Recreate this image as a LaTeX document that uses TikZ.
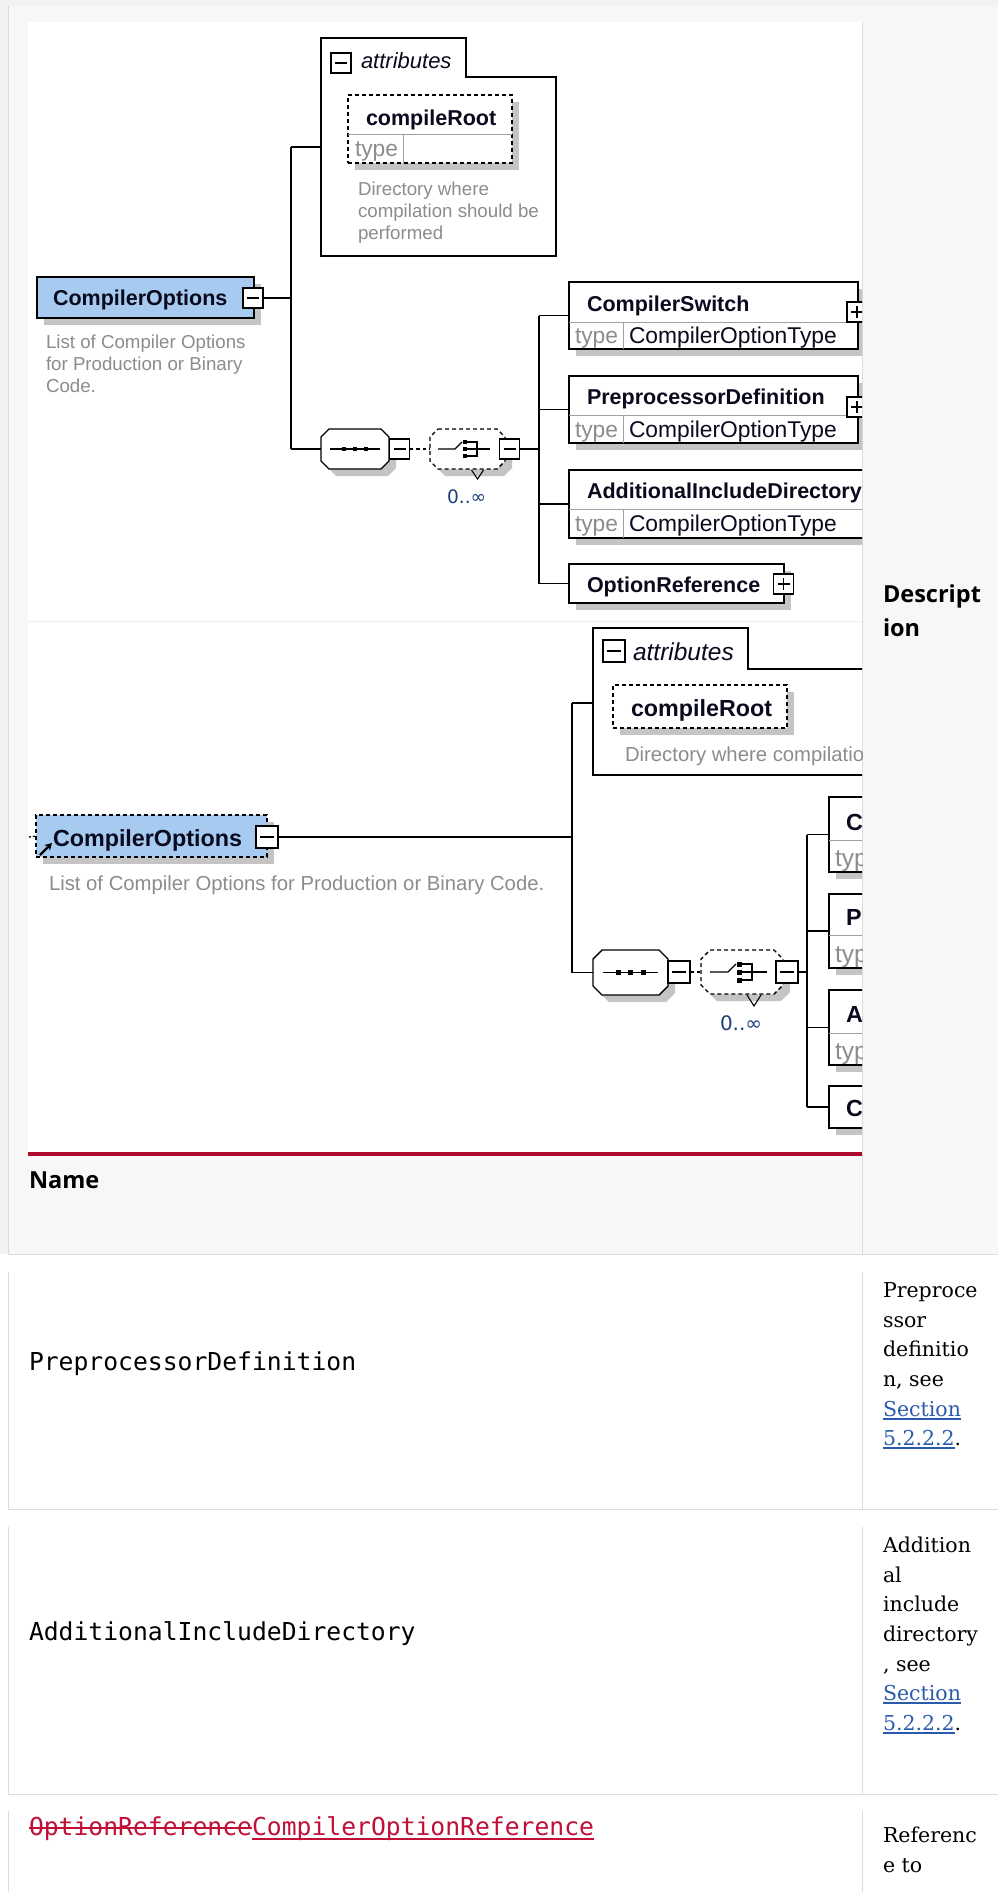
\documentclass[tikz,border=0pt]{standalone}
\usepackage{fontspec}
\setmainfont{Liberation Sans}
\newfontfamily\djsans{DejaVu Sans}
\newfontfamily\djserif{DejaVu Serif}
\newfontfamily\djmono{DejaVu Sans Mono}
\newfontfamily\opsans{Open Sans}
\usetikzlibrary{arrows.meta,calc,shadows}
\definecolor{pagebg}{HTML}{F7F7F7}
\definecolor{outerbg}{HTML}{F2F2F2}
\definecolor{rulec}{HTML}{DCDCDC}
\definecolor{sepc}{HTML}{EEEEEE}
\definecolor{shadowc}{HTML}{C4C4C4}
\definecolor{rootblue}{HTML}{A6CAF0}
\definecolor{descc}{HTML}{8C8C8C}
\definecolor{typec}{HTML}{8C8C8C}
\definecolor{divc}{HTML}{A0A0A0}
\definecolor{occc}{HTML}{1C3F78}
\definecolor{namec}{HTML}{0A0A1E}
\definecolor{crimson}{HTML}{AF0A2D}
\definecolor{linkc}{HTML}{2A5BAA}
\definecolor{chgred}{HTML}{C01038}
\newcommand{\fNmA}{\fontsize{21.5}{25}\selectfont\bfseries}
\newcommand{\fTyA}{\fontsize{22.8}{27}\selectfont}
\newcommand{\fDsA}{\fontsize{18.7}{22}\selectfont}
\newcommand{\fAtA}{\fontsize{22}{26}\selectfont\itshape}
\newcommand{\fNmB}{\fontsize{23.3}{27}\selectfont\bfseries}
\newcommand{\fTyB}{\fontsize{24.5}{29}\selectfont}
\newcommand{\fDsB}{\fontsize{20.3}{24}\selectfont}
\newcommand{\fAtB}{\fontsize{24.5}{29}\selectfont\itshape}
\newcommand{\fHd}{\opsans\bfseries\fontsize{23.5}{33}\selectfont}
\newcommand{\fMo}{\djmono\fontsize{24.7}{30}\selectfont}
\newcommand{\fSe}{\djserif\fontsize{20.5}{30}\selectfont}
\newcommand{\fOcA}{\djsans\fontsize{18.6}{22}\selectfont}
\newcommand{\fOcB}{\djsans\fontsize{20}{24}\selectfont}
\newcommand{\tglminus}[4]{%
  \node[tglbox,minimum size=#4pt] (#1) at (#2,#3) {};
  \draw[line width=1.2pt] ($(#1.west)+(4,0)$) -- ($(#1.east)+(-4,0)$);}
\newcommand{\tglplus}[4]{%
  \node[tglbox,minimum size=#4pt] (#1) at (#2,#3) {};
  \draw[line width=1.2pt] ($(#1.west)+(4,0)$) -- ($(#1.east)+(-4,0)$);
  \draw[line width=1.2pt] ($(#1.north)+(0,4)$) -- ($(#1.south)+(0,-4)$);}
\begin{document}
\begin{tikzpicture}[x=1pt,y=-1pt,
  every node/.style={inner sep=0pt,outer sep=0pt},
  tx/.style={anchor=base west,text=namec},
  conn/.style={draw=black,line width=1.4pt},
  dconn/.style={conn,dash pattern=on 3.5pt off 3pt},
  shd/.style={drop shadow={shadow xshift=7pt,shadow yshift=-7pt,fill=shadowc,opacity=1}},
  elbox/.style={rectangle,draw=black,line width=1.4pt,fill=white,anchor=north west,shd},
  dashbox/.style={elbox,dash pattern=on 4pt off 3pt},
  rootbox/.style={elbox,fill=rootblue},
  hidden/.style={rectangle,draw=none},
  tglbox/.style={rectangle,draw=black,line width=1.2pt,fill=white},
  divline/.style={draw=divc,line width=1pt},
  compo/.style={draw=black,line width=1.4pt,fill=white,shd},
  dcompo/.style={compo,dash pattern=on 4pt off 3pt},
  sq/.style={rectangle,fill=black,draw=none},
  ul/.style={line width=1.1pt}]
\useasboundingbox (0,0) rectangle (998,1892);
% ---------- page / table background ----------
\fill[outerbg] (0,0) rectangle (998,1254);
\fill[pagebg] (8,6) rectangle (998,1254);
\fill[white] (0,1254) rectangle (998,1892);
\fill[white] (28,22) rectangle (862,1152);
\draw[sepc,line width=1pt] (28,621) -- (862,621);
\draw[crimson,line width=3.5pt] (28,1154) -- (862,1154);
\draw[rulec,line width=1pt] (8,6) -- (8,1254);
\draw[rulec,line width=1pt] (862,22) -- (862,1254);
\draw[rulec,line width=1pt] (8,1254) -- (998,1254);
% rows
\draw[rulec,line width=1pt] (8,1272) -- (8,1509) -- (998,1509);
\draw[rulec,line width=1pt] (862,1272) -- (862,1509);
\draw[rulec,line width=1pt] (8,1527) -- (8,1794) -- (998,1794);
\draw[rulec,line width=1pt] (862,1527) -- (862,1794);
\draw[rulec,line width=1pt] (8,1811) -- (8,1892);
\draw[rulec,line width=1pt] (862,1811) -- (862,1892);
% header texts
\node[tx,text=black] (hdesc1) at (883,602) {\fHd Descript};
\node[tx,text=black] (hdesc2) at (883,636) {\fHd ion};
\node[tx,text=black] (hname) at (29,1188) {\fHd Name};
% ---------- diagrams ----------
\begin{scope}
\clip (28,22) rectangle (862,1152);
% ===== top diagram =====
\node[rootbox,minimum width=217pt,minimum height=41pt] (root1) at (37,277) {};
\node[tx] (root1t) at (53,305) {\fNmA CompilerOptions};
\tglminus{rm1}{253}{298}{20}
\node[tx,text=descc] (d1a) at (46,348) {\fDsA List of Compiler Options};
\node[tx,text=descc] (d1b) at (46,370) {\fDsA for Production or Binary};
\node[tx,text=descc] (d1c) at (46,392) {\fDsA Code.};
\coordinate (j1) at (291,298);
\coordinate (j1a) at (291,147);
\coordinate (j1b) at (291,449);
\draw[conn] (rm1.east) -- (j1);
\draw[conn] (j1a) -- (j1b);
% attributes
\draw[conn,fill=white] (321,38) -- (466,38) -- (466,77) -- (556,77) -- (556,256) -- (321,256) -- cycle;
\coordinate (att1w) at (321,147);
\draw[conn] (j1a) -- (att1w);
\tglminus{am1}{341}{63}{20}
\node[tx] (att1t) at (361,69) {\fAtA attributes};
\node[dashbox,minimum width=164pt,minimum height=68pt] (cr1) at (348,95) {};
\draw[divline] ($(cr1.north west)+(0,40)$) -- ($(cr1.north east)+(0,40)$);
\draw[divline] ($(cr1.north west)+(55,40)$) -- ($(cr1.south west)+(55,0)$);
\node[tx] (cr1t) at (366,125) {\fNmA compileRoot};
\node[tx,text=typec] (cr1ty) at (355,157) {\fTyA type};
\node[tx,text=descc] (d2a) at (358,195) {\fDsA Directory where};
\node[tx,text=descc] (d2b) at (358,217) {\fDsA compilation should be};
\node[tx,text=descc] (d2c) at (358,239) {\fDsA performed};
% sequence
\node[hidden,minimum width=68pt,minimum height=40pt] (seq1) at (355,449) {};
\draw[compo] ($(seq1.north west)+(8,0)$) -- ($(seq1.north east)+(-8,0)$) -- ($(seq1.north east)+(0,8)$) -- ($(seq1.south east)+(0,-8)$) -- ($(seq1.south east)+(-8,0)$) -- ($(seq1.south west)+(8,0)$) -- ($(seq1.south west)+(0,-8)$) -- ($(seq1.north west)+(0,8)$) -- cycle;
\draw[conn] (j1b) -- (seq1.west);
\draw[line width=1.2pt] ($(seq1.west)+(9,0)$) -- ($(seq1.east)+(-9,0)$);
\node[sq,minimum size=4.5pt] (s1a) at ($(seq1.center)+(-11,0)$) {};
\node[sq,minimum size=4.5pt] (s1b) at (seq1.center) {};
\node[sq,minimum size=4.5pt] (s1c) at ($(seq1.center)+(11,0)$) {};
\tglminus{sm1}{399.5}{449}{20}
% choice
\node[hidden,minimum width=75pt,minimum height=40pt] (ch1) at (467.5,449) {};
\draw[dcompo] ($(ch1.north west)+(8,0)$) -- ($(ch1.north east)+(-8,0)$) -- ($(ch1.north east)+(0,8)$) -- ($(ch1.south east)+(0,-8)$) -- ($(ch1.south east)+(-8,0)$) -- ($(ch1.south west)+(8,0)$) -- ($(ch1.south west)+(0,-8)$) -- ($(ch1.north west)+(0,8)$) -- cycle;
\draw[line width=1.1pt] ($(ch1.south)+(4,1)$) -- ($(ch1.south)+(10,10)$) -- ($(ch1.south)+(16,1)$);
\draw[dconn] (sm1.east) -- (ch1.west);
\draw[line width=1.2pt] ($(ch1.center)+(-29.5,0)$) -- ($(ch1.center)+(-12.5,0)$) -- ($(ch1.center)+(-5.5,-7)$);
\node[sq,minimum size=4.5pt] (c1a) at ($(ch1.center)+(-2.5,-7)$) {};
\node[sq,minimum size=4.5pt] (c1b) at ($(ch1.center)+(-2.5,0)$) {};
\node[sq,minimum size=4.5pt] (c1c) at ($(ch1.center)+(-2.5,7)$) {};
\draw[line width=1.2pt] (c1a.east) -- ($(ch1.center)+(9.5,-7)$) -- ($(ch1.center)+(9.5,7)$) -- (c1c.east);
\draw[line width=1.2pt] (c1b.east) -- ($(ch1.center)+(22.5,0)$);
\tglminus{cm1}{509.5}{449}{20}
\node[tx,text=occc] (occ1) at (447,503) {\fOcA 0..∞};
\coordinate (j2) at (539,449);
\coordinate (j2a) at (539,315.5);
\coordinate (j2b) at (539,583.5);
\draw[conn] (cm1.east) -- (j2);
\draw[conn] (j2a) -- (j2b);
% children
\node[elbox,minimum width=289pt,minimum height=67pt] (cs1) at (569,282) {};
\draw[divline] ($(cs1.north west)+(0,40)$) -- ($(cs1.north east)+(0,40)$);
\draw[divline] ($(cs1.north west)+(54,40)$) -- ($(cs1.south west)+(54,0)$);
\node[tx] (cs1t) at (587,311) {\fNmA CompilerSwitch};
\node[tx,text=typec] (cs1ty) at (575,343) {\fTyA type};
\node[tx] (cs1tv) at (629,343) {\fTyA CompilerOptionType};
\tglplus{cs1p}{857}{312}{20}
\node[elbox,minimum width=289pt,minimum height=67pt] (pd1) at (569,376) {};
\draw[divline] ($(pd1.north west)+(0,39)$) -- ($(pd1.north east)+(0,39)$);
\draw[divline] ($(pd1.north west)+(54,39)$) -- ($(pd1.south west)+(54,0)$);
\node[tx] (pd1t) at (587,404) {\fNmA PreprocessorDefinition};
\node[tx,text=typec] (pd1ty) at (575,437) {\fTyA type};
\node[tx] (pd1tv) at (629,437) {\fTyA CompilerOptionType};
\tglplus{pd1p}{857}{407}{20}
\node[elbox,minimum width=330pt,minimum height=68pt] (ai1) at (569,470) {};
\draw[divline] ($(ai1.north west)+(0,39)$) -- ($(ai1.north east)+(0,39)$);
\draw[divline] ($(ai1.north west)+(54,39)$) -- ($(ai1.south west)+(54,0)$);
\node[tx] (ai1t) at (587,498) {\fNmA AdditionalIncludeDirectory};
\node[tx,text=typec] (ai1ty) at (575,531) {\fTyA type};
\node[tx] (ai1tv) at (629,531) {\fTyA CompilerOptionType};
\node[elbox,minimum width=215pt,minimum height=39pt] (or1) at (569,564) {};
\node[tx] (or1t) at (587,592) {\fNmA OptionReference};
\tglplus{or1p}{783.5}{584}{20}
\draw[conn] (j2a) -- (cs1.west);
\draw[conn] (j2 |- pd1.west) -- (pd1.west);
\draw[conn] (j2 |- ai1.west) -- (ai1.west);
\draw[conn] (j2b) -- (or1.west);
% ===== second diagram =====
\coordinate (lft) at (29,837);
\node[rootbox,dash pattern=on 4pt off 3pt,minimum width=231pt,minimum height=42pt] (root2) at (36,815) {};
\draw[line width=1.3pt,dash pattern=on 2pt off 2pt] (lft) -- (root2.west);
\node[tx] (root2t) at (53,846) {\fNmB CompilerOptions};
\coordinate (ar1) at (40,855);
\coordinate (ar2) at (52,843);
\draw[line width=2.4pt,-{Stealth[length=7pt,width=8pt]}] (ar1) -- (ar2);
\tglminus{rm2}{267}{837}{22}
\node[tx,text=descc] (d3a) at (49,890) {\fDsB List of Compiler Options for Production or Binary Code.};
\coordinate (k1) at (572,837);
\coordinate (k1a) at (572,703);
\coordinate (k1b) at (572,972.5);
\draw[conn] (rm2.east) -- (k1);
\draw[conn] (k1a) -- (k1b);
\draw[conn,fill=white] (593,628) -- (748,628) -- (748,669) -- (900,669) -- (900,775) -- (593,775) -- cycle;
\coordinate (att2w) at (593,703);
\draw[conn] (k1a) -- (att2w);
\tglminus{am2}{614}{651}{22}
\node[tx] (att2t) at (633,660) {\fAtB attributes};
\node[dashbox,minimum width=174pt,minimum height=43pt] (cr2) at (613,685) {};
\node[tx] (cr2t) at (631,716) {\fNmB compileRoot};
\node[tx,text=descc] (d4a) at (625,761) {\fDsB Directory where compilation should be performed};
% sequence 2
\node[hidden,minimum width=75pt,minimum height=45pt] (seq2) at (630.5,972.5) {};
\draw[compo] ($(seq2.north west)+(9,0)$) -- ($(seq2.north east)+(-9,0)$) -- ($(seq2.north east)+(0,9)$) -- ($(seq2.south east)+(0,-9)$) -- ($(seq2.south east)+(-9,0)$) -- ($(seq2.south west)+(9,0)$) -- ($(seq2.south west)+(0,-9)$) -- ($(seq2.north west)+(0,9)$) -- cycle;
\draw[conn] (k1b) -- (seq2.west);
\draw[line width=1.3pt] ($(seq2.west)+(10,0)$) -- ($(seq2.east)+(-10,0)$);
\node[sq,minimum size=5pt] (s2a) at ($(seq2.center)+(-12,0)$) {};
\node[sq,minimum size=5pt] (s2b) at (seq2.center) {};
\node[sq,minimum size=5pt] (s2c) at ($(seq2.center)+(13,0)$) {};
\tglminus{sm2}{679}{972}{22}
% choice 2
\node[hidden,minimum width=82pt,minimum height=44pt] (ch2) at (742,972) {};
\draw[dcompo] ($(ch2.north west)+(9,0)$) -- ($(ch2.north east)+(-9,0)$) -- ($(ch2.north east)+(0,9)$) -- ($(ch2.south east)+(0,-9)$) -- ($(ch2.south east)+(-9,0)$) -- ($(ch2.south west)+(9,0)$) -- ($(ch2.south west)+(0,-9)$) -- ($(ch2.north west)+(0,9)$) -- cycle;
\draw[line width=1.1pt] ($(ch2.south)+(5,1)$) -- ($(ch2.south)+(12,12)$) -- ($(ch2.south)+(19,1)$);
\draw[dconn] (sm2.east) -- (ch2.west);
\draw[line width=1.3pt] ($(ch2.center)+(-32,0)$) -- ($(ch2.center)+(-14,0)$) -- ($(ch2.center)+(-6,-8)$);
\node[sq,minimum size=5pt] (c2a) at ($(ch2.center)+(-3,-8)$) {};
\node[sq,minimum size=5pt] (c2b) at ($(ch2.center)+(-3,0)$) {};
\node[sq,minimum size=5pt] (c2c) at ($(ch2.center)+(-3,8)$) {};
\draw[line width=1.3pt] (c2a.east) -- ($(ch2.center)+(10,-8)$) -- ($(ch2.center)+(10,8)$) -- (c2c.east);
\draw[line width=1.3pt] (c2b.east) -- ($(ch2.center)+(25,0)$);
\tglminus{cm2}{787}{972}{22}
\node[tx,text=occc] (occ2) at (720,1030) {\fOcB 0..∞};
\coordinate (k2) at (807,972);
\coordinate (k2a) at (807,834.5);
\coordinate (k2b) at (807,1107);
\draw[conn] (cm2.east) -- (k2);
\draw[conn] (k2a) -- (k2b);
\node[elbox,minimum width=271pt,minimum height=75pt] (cs2) at (829,797) {};
\draw[divline] ($(cs2.north west)+(0,43)$) -- ($(cs2.north east)+(0,43)$);
\node[tx] (cs2t) at (846,830) {\fNmB CompilerSwitch};
\node[tx,text=typec] (cs2ty) at (835,866) {\fTyB type};
\node[elbox,minimum width=271pt,minimum height=74pt] (pd2) at (829,894) {};
\draw[divline] ($(pd2.north west)+(0,41)$) -- ($(pd2.north east)+(0,41)$);
\node[tx] (pd2t) at (846,925) {\fNmB PreprocessorDefinition};
\node[tx,text=typec] (pd2ty) at (835,962) {\fTyB type};
\node[elbox,minimum width=271pt,minimum height=75pt] (ai2) at (829,990) {};
\draw[divline] ($(ai2.north west)+(0,43)$) -- ($(ai2.north east)+(0,43)$);
\node[tx] (ai2t) at (846,1022) {\fNmB AdditionalIncludeDirectory};
\node[tx,text=typec] (ai2ty) at (835,1059) {\fTyB type};
\node[elbox,minimum width=200pt,minimum height=42pt] (or2) at (829,1086) {};
\node[tx] (or2t) at (846,1116) {\fNmB CompilerOptionReference};
\draw[conn] (k2a) -- (cs2.west);
\draw[conn] (k2 |- pd2.west) -- (pd2.west);
\draw[conn] (k2 |- ai2.west) -- (ai2.west);
\draw[conn] (k2b) -- (or2.west);
\end{scope}
% ---------- table rows ----------
\node[tx,text=black] (n2) at (29,1370) {\fMo PreprocessorDefinition};
\node[tx,text=black] (e2a) at (883,1297) {\fSe Preproce};
\node[tx,text=black] (e2b) at (883,1327) {\fSe ssor};
\node[tx,text=black] (e2c) at (883,1356) {\fSe definitio};
\node[tx,text=black] (e2d) at (883,1386) {\fSe n, see};
\node[tx,text=linkc] (e2e) at (883,1416) {\fSe Section};
\node[tx,text=linkc] (e2f) at (883,1445) {\fSe 5.2.2.2};
\node[tx,text=black] (e2g) at (e2f.base east) {\fSe .};
\draw[ul,linkc] ($(e2e.base west)+(0,3)$) -- ($(e2e.base east)+(0,3)$);
\draw[ul,linkc] ($(e2f.base west)+(0,3)$) -- ($(e2f.base east)+(0,3)$);
\node[tx,text=black] (n3) at (29,1640) {\fMo AdditionalIncludeDirectory};
\node[tx,text=black] (e3a) at (883,1552) {\fSe Addition};
\node[tx,text=black] (e3b) at (883,1582) {\fSe al};
\node[tx,text=black] (e3c) at (883,1611) {\fSe include};
\node[tx,text=black] (e3d) at (883,1641) {\fSe directory};
\node[tx,text=black] (e3e) at (883,1671) {\fSe , see};
\node[tx,text=linkc] (e3f) at (883,1700) {\fSe Section};
\node[tx,text=linkc] (e3g) at (883,1730) {\fSe 5.2.2.2};
\node[tx,text=black] (e3h) at (e3g.base east) {\fSe .};
\draw[ul,linkc] ($(e3f.base west)+(0,3)$) -- ($(e3f.base east)+(0,3)$);
\draw[ul,linkc] ($(e3g.base west)+(0,3)$) -- ($(e3g.base east)+(0,3)$);
\node[tx,text=chgred] (n4a) at (29,1835) {\fMo OptionReference};
\node[tx,text=chgred] (n4b) at (n4a.base east) {\fMo CompilerOptionReference};
\draw[ul,chgred] ($(n4a.base west)+(0,-7)$) -- ($(n4a.base east)+(0,-7)$);
\draw[ul,chgred] ($(n4b.base west)+(0,4)$) -- ($(n4b.base east)+(0,4)$);
\node[tx,text=black] (e4a) at (883,1842) {\fSe Referenc};
\node[tx,text=black] (e4b) at (883,1872) {\fSe e to};
\end{tikzpicture}
\end{document}
